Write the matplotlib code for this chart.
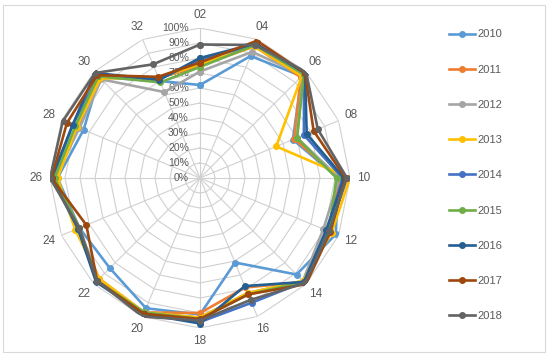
import matplotlib
matplotlib.use("Agg")
import matplotlib.pyplot as plt
import matplotlib.transforms as mtransforms
import numpy as np

plt.rcParams['font.family'] = ['Liberation Sans', 'DejaVu Sans']

# categories around the radar (clockwise from top)
categories = ["02", "04", "06", "08", "10", "12", "14", "16",
              "18", "20", "22", "24", "26", "28", "30", "32"]

years = ["2010", "2011", "2012", "2013", "2014", "2015", "2016", "2017", "2018"]

# values in percent
v2010 = [62, 88, 96, 67, 92, 98, 91, 61, 91, 94, 85, 87, 95, 84, 95, 70]
v2011 = [75, 95, 95, 68, 93, 93, 98, 79, 90, 97, 95, 88, 96, 88, 95, 72]
v2012 = [71, 91, 97, 70, 93, 89, 97, 83, 93, 97, 96, 87, 97, 87, 93, 62]
v2013 = [76, 95, 96, 55, 100, 95, 97, 83, 93, 97, 95, 90, 95, 89, 94, 72]
v2014 = [79, 96, 98, 75, 95, 92, 98, 90, 96, 98, 97, 88, 98, 92, 96, 71]
v2015 = [74, 96, 98, 70, 91, 93, 98, 84, 94, 97, 97, 87, 97, 90, 96, 69]
v2016 = [80, 97, 99, 77, 96, 91, 98, 78, 97, 98, 98, 88, 99, 92, 99, 71]
v2017 = [77, 99, 99, 82, 97, 94, 100, 84, 94, 98, 97, 82, 99, 96, 97, 73]
v2018 = [89, 96, 100, 85, 98, 93, 99, 88, 95, 100, 97, 87, 100, 99, 99, 82]

series = [v2010, v2011, v2012, v2013, v2014, v2015, v2016, v2017, v2018]
colors = ["#5B9BD5", "#ED7D31", "#A5A5A5", "#FFC000", "#4472C4",
          "#70AD47", "#255E91", "#9E480E", "#636363"]

ticks = np.arange(0, 101, 10)
tick_labels = [f"{t}%" for t in ticks]

W, H = 550, 356
fig = plt.figure(figsize=(W / 100, H / 100), dpi=100)

# chart border
border = plt.Rectangle((3 / W, 4 / H), 542 / W, 347 / H, transform=fig.transFigure,
                       fill=False, edgecolor="#D9D9D9", linewidth=0.8)
fig.patches.append(border)

cx, cy, R = 200, 178, 150
ax = fig.add_axes([(cx - R) / W, (H - cy - R) / H, 2 * R / W, 2 * R / H], projection="polar")
ax.set_theta_zero_location("N")
ax.set_theta_direction(-1)
ax.set_ylim(0, 100)
ax.grid(False)
ax.spines["polar"].set_visible(False)
ax.set_xticks([])
ax.set_yticks([])
ax.patch.set_alpha(0)

n = len(categories)
angles = np.arange(n) * 2 * np.pi / n
closed = np.append(angles, angles[0])

# polygon gridlines and spokes
for t in ticks[1:]:
    ax.plot(closed, [t] * (n + 1), color="#D0D0D0", linewidth=0.8, zorder=1)
for a in angles:
    ax.plot([a, a], [0, 100], color="#D0D0D0", linewidth=0.8, zorder=1)

# radial axis labels
lab_tr = mtransforms.offset_copy(ax.transData, fig=fig, x=-8, y=0, units="points")
for t, lab in zip(ticks, tick_labels):
    ax.text(0, t, lab, transform=lab_tr, ha="right", va="center",
            fontsize=7.5, color="#595959")

# category labels
for a, c in zip(angles, categories):
    ax.text(a, 109, c, ha="center", va="center", fontsize=8.5, color="#595959")

for yr, vals, col in zip(years, series, colors):
    ax.plot(closed, vals + vals[:1], color=col, linewidth=1.9, marker="o",
            markersize=4, label=yr, zorder=3)

fig.legend(loc="upper left", bbox_to_anchor=(445 / W, 1 - 25 / H), frameon=False,
           fontsize=8, labelcolor="#595959", handlelength=2.3, handletextpad=0.2,
           labelspacing=2.27, borderaxespad=0)

fig.savefig("out.png", dpi=100)
